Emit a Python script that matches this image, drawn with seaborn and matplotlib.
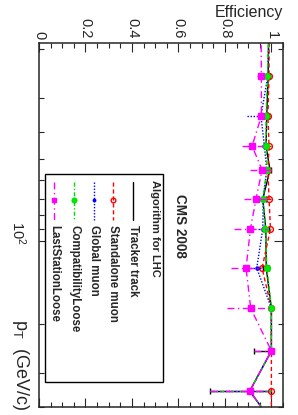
import numpy as np
import pandas as pd
import matplotlib
matplotlib.use("Agg")
import matplotlib.pyplot as plt
import matplotlib.transforms as mtransforms
import seaborn as sns
from matplotlib.lines import Line2D
from matplotlib.patches import Rectangle
from matplotlib.ticker import MultipleLocator, LogLocator, NullFormatter

# bin centres in pT (GeV/c); first and last lie just outside the drawn range
pt = [15, 25, 35, 45, 55, 70, 90, 125, 175, 250, 350, 450]

eff_tracker = [0.99, 0.986, 0.98, 0.977, 0.994, 0.963, 0.976, 0.978, 1.0, 1.0, 0.907, 1.0]
eff_standalone = [0.99, 0.99, 0.985, 0.99, 0.985, 0.99, 0.996, 0.96, 1.0, 1.0, 1.0, 1.0]
eff_global = [0.99, 0.985, 0.955, 0.97, 0.98, 0.965, 0.963, 0.937, 1.0, 1.0, 0.907, 1.0]
eff_compat = [0.99, 0.983, 0.977, 0.977, 0.981, 0.963, 0.974, 0.981, 1.0, 1.0, 0.907, 1.0]
eff_laststation = [0.955, 0.957, 0.957, 0.917, 0.960, 0.934, 0.910, 0.891, 0.911, 1.0, 0.907, 1.0]

err_tracker = [0.0, 0.008, 0.01, 0.01, 0.006, 0.015, 0.012, 0.012, 0.0, 0.075, 0.17, 0.0]
err_standalone = [0.0, 0.008, 0.01, 0.008, 0.01, 0.008, 0.004, 0.02, 0.0, 0.0, 0.0, 0.0]
err_global = [0.0, 0.008, 0.058, 0.015, 0.01, 0.015, 0.02, 0.03, 0.0, 0.0, 0.17, 0.0]
err_compat = [0.0, 0.008, 0.01, 0.01, 0.01, 0.015, 0.012, 0.012, 0.0, 0.0, 0.17, 0.0]
err_laststation = [0.0, 0.02, 0.02, 0.045, 0.05, 0.05, 0.07, 0.065, 0.10, 0.076, 0.17, 0.0]

labels = ["Tracker track", "Standalone muon", "Global muon",
          "CompatibilityLoose", "LastStationLoose"]

W, H = 298, 415

sns.set_style("ticks")
plt.rcParams["font.family"] = ["Liberation Sans", "DejaVu Sans"]
plt.rcParams["mathtext.fontset"] = "custom"
plt.rcParams["mathtext.rm"] = "Liberation Sans"
plt.rcParams["mathtext.it"] = "Liberation Sans:italic"

fig = plt.figure(figsize=(W / 100, H / 100), dpi=100)
ax = fig.add_axes([39 / W, 8 / H, 244 / W, 364 / H])


def fx(x):
    return x / W


def fy(y):
    return 1 - y / H


series = [
    dict(eff=eff_tracker, err=err_tracker, color="black", ls="-", marker=None,
         mfc="black", ms=0, cap=2),
    dict(eff=eff_standalone, err=err_standalone, color="#ff0000", ls=(0, (3, 2)),
         marker="o", mfc="none", ms=4.2, cap=0),
    dict(eff=eff_global, err=err_global, color="#0000ff", ls=(0, (1, 1.2)),
         marker="o", mfc="#0000ff", ms=2.2, cap=0),
    dict(eff=eff_compat, err=err_compat, color="#00e000", ls=(0, (3, 1.5, 1, 1.5)),
         marker="o", mfc="#00ee00", ms=4.2, cap=0),
    dict(eff=eff_laststation, err=err_laststation, color="#ff00ff", ls=(0, (5, 2.5, 1, 2.5)),
         marker="s", mfc="#ff00ff", ms=4.2, cap=0),
]

for s in series:
    df = pd.DataFrame({"pt": pt, "eff": s["eff"]})
    sns.lineplot(data=df, x="eff", y="pt", sort=False, estimator=None,
                 color=s["color"], linestyle=s["ls"], linewidth=1.0, ax=ax)
    eff = np.array(s["eff"])
    lo = np.array(s["err"])
    hi = np.minimum(lo, 1.0 - eff)
    eb = ax.errorbar(eff, pt, xerr=[lo, hi], fmt="none", ecolor=s["color"],
                     elinewidth=1.0, capsize=s["cap"], capthick=1.0)
    eb[2][0].set_linestyle(s["ls"])
    if s["marker"]:
        ax.plot(eff, pt, linestyle="none", marker=s["marker"], ms=s["ms"],
                mfc=s["mfc"], mec=s["color"], mew=1.0)

ax.set_xlim(0, 1.05)
ax.set_yscale("log")
ax.set_ylim(400, 19)
ax.set_xlabel("")
ax.set_ylabel("")

ax.xaxis.set_major_locator(MultipleLocator(0.2))
ax.xaxis.set_minor_locator(MultipleLocator(0.05))
ax.xaxis.set_major_formatter(matplotlib.ticker.FuncFormatter(
    lambda v, p: "0" if abs(v) < 1e-9 else ("1" if abs(v - 1) < 1e-9 else f"{v:g}")))
ax.yaxis.set_major_locator(LogLocator(base=10, numticks=5))
ax.yaxis.set_minor_locator(LogLocator(base=10, subs=np.arange(2, 10), numticks=20))
ax.yaxis.set_minor_formatter(NullFormatter())

ax.tick_params(axis="x", which="both", direction="in", top=True, bottom=True,
               labeltop=True, labelbottom=False, labelrotation=-90,
               labelsize=10.5, pad=3)
ax.tick_params(axis="y", which="both", direction="in", left=True, right=True,
               labelleft=True, labelrotation=-90, labelsize=10.5, pad=8)
ax.tick_params(which="major", length=6.5, width=0.8)
ax.tick_params(which="minor", length=3.5, width=0.8)
for sp in ax.spines.values():
    sp.set_linewidth(1.1)

# pT label sits a little above its tick, as in the reference
shift = mtransforms.ScaledTranslation(0, 9 / 100, fig.dpi_scale_trans)
for lab in ax.get_yticklabels():
    lab.set_va("center")
    lab.set_transform(lab.get_transform() + shift)

# axis titles, drawn the way the rotated canvas shows them
fig.text(fx(283), fy(12), "Efficiency", ha="right", va="center", fontsize=11.5)
fig.text(fx(20), fy(410), r"p$_{\mathrm{T}}$  (GeV/c)", rotation=-90,
         ha="center", va="bottom", fontsize=13)
fig.text(fx(180), fy(194), "CMS 2008", rotation=-90, ha="center", va="top",
         fontsize=9.8, fontweight="bold")

# legend drawn by hand, turned like the rest of the figure
fig.patches.append(Rectangle((fx(45), fy(382)), fx(163) - fx(45), fy(174) - fy(382),
                             transform=fig.transFigure, facecolor="white",
                             edgecolor="black", linewidth=1.0, zorder=5))
fig.text(fx(155), fy(180), "Algorithm for LHC", rotation=-90, ha="center",
         va="top", fontsize=8.0, fontweight="bold", zorder=6)
cols = [133, 113, 94, 74, 54]
for s, lab, cx in zip(series, labels, cols):
    fig.lines.append(Line2D([fx(cx), fx(cx)], [fy(182), fy(220)],
                            transform=fig.transFigure, color=s["color"],
                            linestyle=s["ls"], linewidth=1.0, zorder=6))
    if s["marker"]:
        fig.lines.append(Line2D([fx(cx)], [fy(200)], transform=fig.transFigure,
                                marker=s["marker"], ms=s["ms"] * 0.8, mfc=s["mfc"],
                                mec=s["color"], mew=1.0, linestyle="none", zorder=7))
    fig.text(fx(cx), fy(225), lab, rotation=-90, ha="center", va="top",
             fontsize=8.3, fontweight="bold", zorder=6)

fig.savefig("out.png", dpi=100)
